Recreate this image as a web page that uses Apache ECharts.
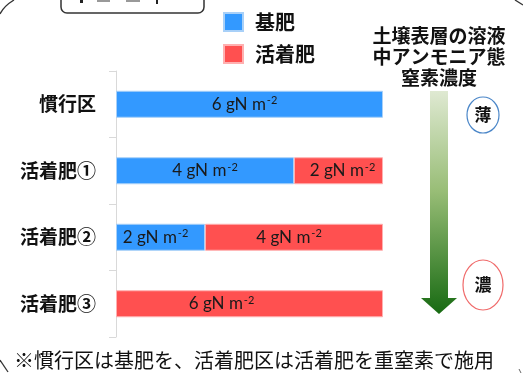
<!DOCTYPE html>
<html>
<head>
<meta charset="utf-8">
<script src="https://cdn.jsdelivr.net/npm/echarts@6/dist/echarts.min.js"></script>
<style>
  html, body { margin: 0; padding: 0; background: #fff; }
  #chart { width: 523px; height: 374px; }
</style>
</head>
<body>
<div id="chart"></div>
<script>
// Plots and nitrogen amounts (gN m-2)
const categories = ['慣行区', '活着肥①', '活着肥②', '活着肥③'];
const basalN = [6, 4, 2, 0];   // 基肥
const rootingN = [0, 2, 4, 6]; // 活着肥
const seriesNames = ['基肥', '活着肥'];
const unitText = 'gN m';
const unitSup = '-2';

const CJK = '"Noto Sans CJK JP", "Noto Sans CJK SC", sans-serif';
const LAT = 'Lato, "Open Sans", sans-serif';

// horizontal nudges for the in-bar labels (pixels), per series
const labelNudge = {
  basal: [-5, 0, -5, 0],
  rooting: [0, 4, -5, -28]
};

const toBarData = (arr, nudge) => arr.map((v, i) =>
  v === 0 ? null : { value: v, label: { offset: [nudge[i], 0] } });

const barLabel = {
  show: true,
  position: 'inside',
  formatter: p => (p.value ? '{v|' + p.value + ' ' + unitText + '}{s|' + unitSup + '}' : ''),
  rich: {
    v: { fontFamily: LAT, fontSize: 17, color: '#1a1a1a', lineHeight: 18 },
    s: { fontFamily: LAT, fontSize: 11, color: '#1a1a1a', lineHeight: 18, verticalAlign: 'top', padding: [0, 0, 0, 1] }
  }
};

const chart = echarts.init(document.getElementById('chart'), null, { renderer: 'canvas' });

chart.setOption({
  animation: false,
  backgroundColor: '#ffffff',
  grid: { left: 116, right: 140, top: 71, bottom: 37 },
  legend: {
    orient: 'vertical',
    left: 223,
    top: 12,
    padding: 0,
    itemWidth: 19,
    itemHeight: 18,
    itemGap: 12,
    icon: 'rect',
    data: seriesNames,
    textStyle: { fontFamily: CJK, fontSize: 20, fontWeight: 'bold', color: '#111', lineHeight: 18, padding: [0, 0, 0, 7] }
  },
  xAxis: { type: 'value', min: 0, max: 6, show: false },
  yAxis: {
    type: 'category',
    inverse: true,
    data: categories,
    axisLine: { show: true, lineStyle: { color: '#d9d9d9', width: 1 } },
    axisTick: { show: true, length: 7, lineStyle: { color: '#d9d9d9' } },
    axisLabel: { margin: 20, fontFamily: CJK, fontSize: 19, fontWeight: 'bold', color: '#111' }
  },
  series: [
    {
      name: seriesNames[0],
      type: 'bar',
      stack: 'n',
      barWidth: 27,
      data: toBarData(basalN, labelNudge.basal),
      itemStyle: { color: '#3399ff', borderColor: '#a8d0f8', borderWidth: 1 },
      label: barLabel
    },
    {
      name: seriesNames[1],
      type: 'bar',
      stack: 'n',
      barWidth: 27,
      data: toBarData(rootingN, labelNudge.rooting),
      itemStyle: { color: '#ff5050', borderColor: '#ffb0b0', borderWidth: 1 },
      label: barLabel
    }
  ],
  graphic: [
    // concentration caption
    {
      type: 'text',
      style: {
        x: 439, y: 25, text: '土壌表層の溶液\n中アンモニア態\n窒素濃度',
        align: 'center', verticalAlign: 'top', lineHeight: 21,
        font: 'bold 19px ' + CJK, fill: '#111'
      }
    },
    // gradient arrow, pale at top, deep green at the tip
    {
      type: 'polygon',
      shape: { points: [[430, 91], [448, 91], [448, 298], [457, 298], [439, 314], [421, 298], [430, 298]] },
      style: {
        fill: new echarts.graphic.LinearGradient(0, 0, 0, 1, [
          { offset: 0, color: '#dfe9d2' },
          { offset: 0.45, color: '#98bd76' },
          { offset: 1, color: '#176a12' }
        ])
      }
    },
    // 薄 / 濃 markers
    { type: 'ellipse', shape: { cx: 483, cy: 115, rx: 16, ry: 18 }, style: { fill: '#fff', stroke: '#4a86c8', lineWidth: 1.2 } },
    { type: 'text', style: { x: 483, y: 115, text: '薄', align: 'center', verticalAlign: 'middle', font: 'bold 17px ' + CJK, fill: '#111' } },
    { type: 'ellipse', shape: { cx: 483, cy: 285, rx: 20, ry: 25 }, style: { fill: '#fff', stroke: '#f06a6a', lineWidth: 1.2 } },
    { type: 'text', style: { x: 483, y: 285, text: '濃', align: 'center', verticalAlign: 'middle', font: 'bold 17px ' + CJK, fill: '#111' } },
    // footnote
    {
      type: 'text',
      style: { x: 14, y: 360, text: '※慣行区は基肥を、活着肥区は活着肥を重窒素で施用', align: 'left', verticalAlign: 'middle', font: '20px ' + CJK, fill: '#111' }
    },
    // frame pieces along the edges
    { type: 'rect', shape: { x: 61, y: -20, width: 143, height: 33, r: 6 }, style: { fill: 'none', stroke: '#333', lineWidth: 1.5 } },
    { type: 'rect', shape: { x: 80, y: 0, width: 3, height: 3 }, style: { fill: '#222' } },
    { type: 'rect', shape: { x: 97, y: 0, width: 13, height: 2 }, style: { fill: '#999' } },
    { type: 'rect', shape: { x: 126, y: 0, width: 14, height: 2 }, style: { fill: '#999' } },
    { type: 'rect', shape: { x: 156, y: 0, width: 2, height: 4 }, style: { fill: '#222' } },
    { type: 'bezierCurve', shape: { x1: 0, y1: 14, cpx1: 4, cpy1: 6, x2: 14, y2: 0 }, style: { fill: 'none', stroke: '#333', lineWidth: 1.3 } },
    { type: 'line', shape: { x1: 515, y1: 0, x2: 523, y2: 5 }, style: { stroke: '#333', lineWidth: 1.3 } },
    { type: 'line', shape: { x1: 0, y1: 360, x2: 8, y2: 372 }, style: { stroke: '#333', lineWidth: 1.3 } },
    { type: 'line', shape: { x1: 519, y1: 369, x2: 521, y2: 373 }, style: { stroke: '#666', lineWidth: 1 } }
  ]
});
</script>
</body>
</html>
